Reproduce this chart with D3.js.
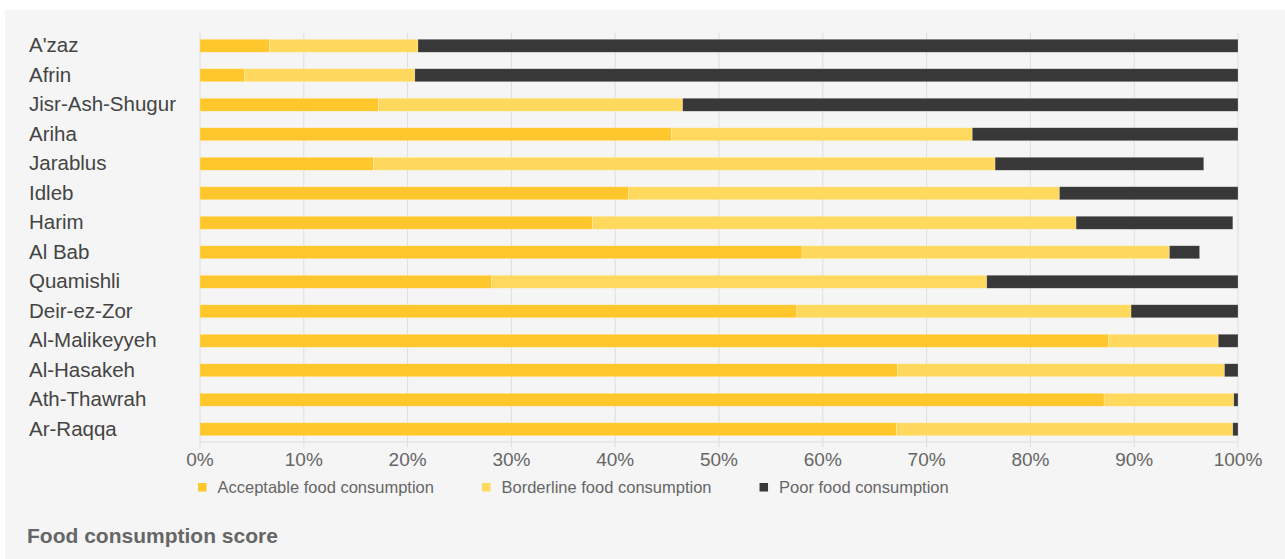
<!DOCTYPE html>
<html>
<head>
<meta charset="utf-8">
<script src="https://cdn.jsdelivr.net/npm/d3@7"></script>
<style>
  html, body { margin: 0; padding: 0; background: #fff; }
  svg { display: block; }
</style>
</head>
<body>
<svg id="chart" width="1285" height="559"></svg>
<script>
// districts, top to bottom
const districts = ['A\'zaz', 'Afrin', 'Jisr-Ash-Shugur', 'Ariha', 'Jarablus', 'Idleb', 'Harim',
  'Al Bab', 'Quamishli', 'Deir-ez-Zor', 'Al-Malikeyyeh', 'Al-Hasakeh', 'Ath-Thawrah', 'Ar-Raqqa']

// share of households, %
const acceptable = [6.7, 4.3, 17.2, 45.4, 16.7, 41.3, 37.8, 58.0, 28.1, 57.5, 87.5, 67.2, 87.1, 67.1]
const borderline = [14.3, 16.4, 29.3, 29.0, 59.9, 41.5, 46.6, 35.4, 47.7, 32.2, 10.6, 31.5, 12.5, 32.4]
const poor = [79.0, 79.3, 53.5, 25.6, 20.1, 17.2, 15.1, 2.9, 24.2, 10.3, 1.9, 1.3, 0.4, 0.5]

const seriesNames = ['Acceptable food consumption', 'Borderline food consumption', 'Poor food consumption']
const seriesColors = ['#ffc72c', '#ffd95e', '#383838']
const tickValues = [0, 10, 20, 30, 40, 50, 60, 70, 80, 90, 100]

window.addEventListener('load', makeChart)

function makeChart() {
  const svg = d3.select('#chart')

  // grey panel
  svg.append('rect')
    .attr('x', 5).attr('y', 10)
    .attr('width', 1280).attr('height', 549)
    .attr('fill', '#f5f5f5')

  const data = districts.map((d, i) => ({
    name: d, acc: acceptable[i], bord: borderline[i], poor: poor[i]
  }))

  const scX = d3.scaleLinear().domain([0, 100]).range([200, 1238])
  const scY = d3.scaleBand().domain(districts).range([31, 444])
    .paddingInner(0.56).paddingOuter(0.28)
  const gridTop = 33, gridBottom = 442

  // gridlines
  svg.append('g')
    .selectAll('line')
    .data(tickValues)
    .enter()
    .append('line')
    .attr('x1', (d) => scX(d)).attr('x2', (d) => scX(d))
    .attr('y1', gridTop).attr('y2', gridBottom + 5)
    .attr('stroke', '#dedede')
    .attr('stroke-width', 1)

  svg.append('line')
    .attr('x1', scX(0)).attr('x2', scX(100))
    .attr('y1', gridBottom).attr('y2', gridBottom)
    .attr('stroke', '#dedede')

  // stacked bars
  const stack = d3.stack().keys(['acc', 'bord', 'poor'])(data)
  svg.append('g')
    .selectAll('g')
    .data(stack)
    .enter()
    .append('g')
    .attr('fill', (d, i) => seriesColors[i])
    .selectAll('rect')
    .data((d) => d)
    .enter()
    .append('rect')
    .attr('x', (d) => scX(d[0]))
    .attr('width', (d) => scX(d[1]) - scX(d[0]))
    .attr('y', (d) => scY(d.data.name))
    .attr('height', scY.bandwidth())
    .attr('stroke', '#ffffff')
    .attr('stroke-opacity', 0.35)
    .attr('stroke-width', 0.6)

  // category labels
  svg.append('g')
    .selectAll('text')
    .data(districts)
    .enter()
    .append('text')
    .attr('x', 29)
    .attr('y', (d) => scY(d) + scY.bandwidth() / 2 + 6.5)
    .attr('font-family', 'Liberation Sans, Arial, sans-serif')
    .attr('font-size', 20.5)
    .attr('fill', '#444')
    .text((d) => d)

  // x tick labels
  svg.append('g')
    .selectAll('text')
    .data(tickValues)
    .enter()
    .append('text')
    .attr('x', (d) => scX(d))
    .attr('y', 466)
    .attr('text-anchor', 'middle')
    .attr('font-family', 'Liberation Sans, Arial, sans-serif')
    .attr('font-size', 19)
    .attr('fill', '#666')
    .text((d) => d + '%')

  // legend
  let lx = 198
  seriesNames.forEach((name, i) => {
    svg.append('rect')
      .attr('x', lx).attr('y', 483)
      .attr('width', 8.5).attr('height', 8.5)
      .attr('fill', seriesColors[i])
    const t = svg.append('text')
      .attr('x', lx + 19.5)
      .attr('y', 493)
      .attr('font-family', 'Liberation Sans, Arial, sans-serif')
      .attr('font-size', 16.5)
      .attr('fill', '#666')
      .text(name)
    lx += 19.5 + t.node().getComputedTextLength() + 48
  })

  // title
  svg.append('text')
    .attr('x', 27)
    .attr('y', 543)
    .attr('font-family', 'Liberation Sans, Arial, sans-serif')
    .attr('font-weight', 'bold')
    .attr('font-size', 21)
    .attr('fill', '#666')
    .text('Food consumption score')
}
</script>
</body>
</html>
